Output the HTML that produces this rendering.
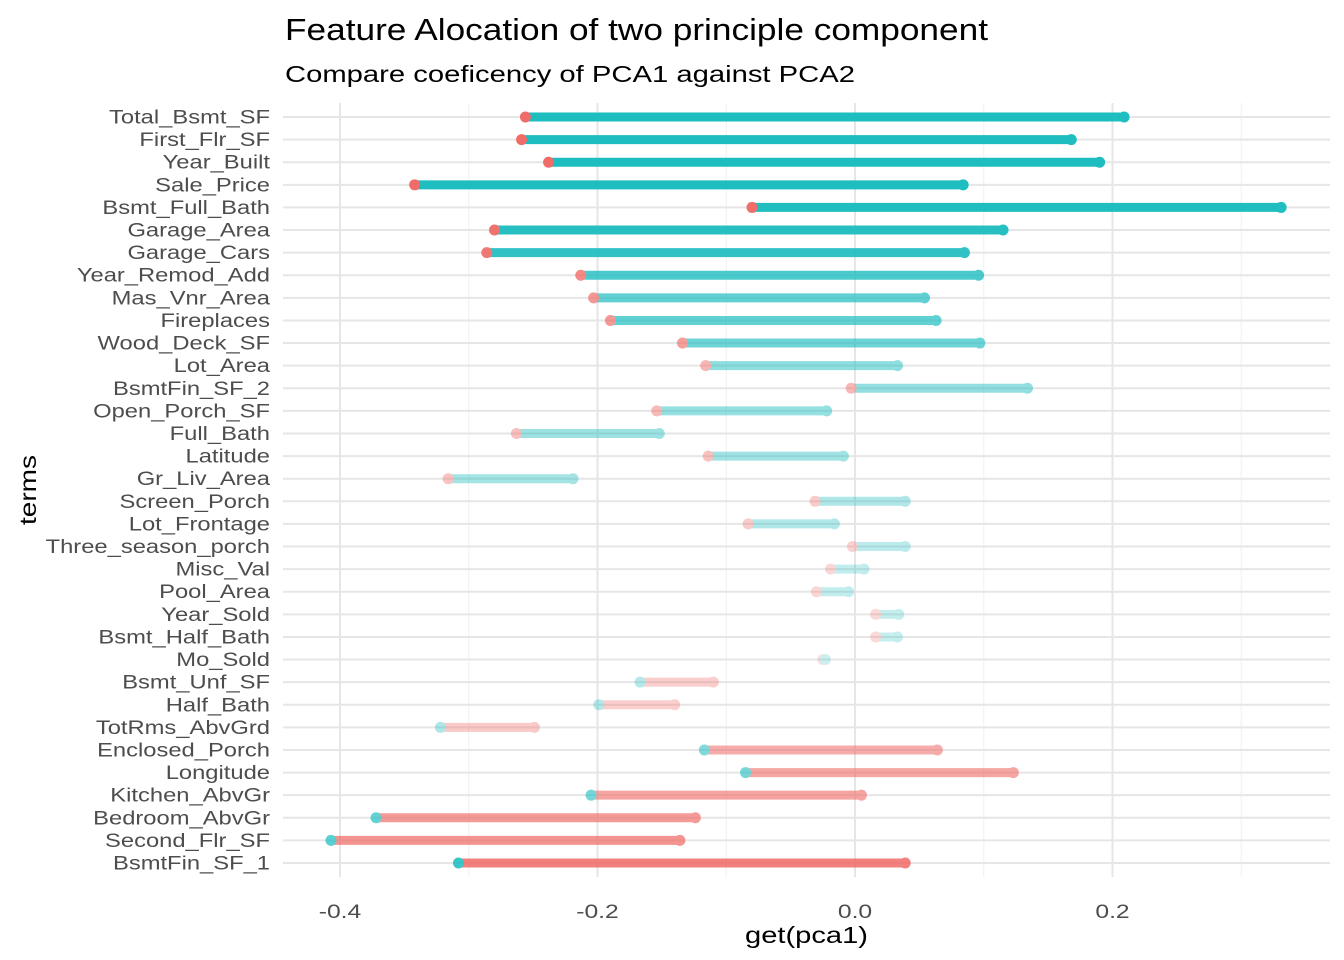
<!DOCTYPE html>
<html><head><meta charset="utf-8">
<style>
html,body{margin:0;padding:0;background:#fff;}
svg{display:block;font-family:"Liberation Sans",Arial,sans-serif;}
</style></head>
<body>
<svg id="chart" width="1344" height="960" viewBox="0 0 1344 960" xmlns="http://www.w3.org/2000/svg">
<text x="285" y="40" font-size="31" textLength="703" lengthAdjust="spacingAndGlyphs" fill="#000">Feature Alocation of two principle component</text>
<text x="285" y="82" font-size="23" textLength="570" lengthAdjust="spacingAndGlyphs" fill="#000">Compare coeficency of PCA1 against PCA2</text>
<text x="745" y="943" font-size="23" textLength="123" lengthAdjust="spacingAndGlyphs" fill="#000">get(pca1)</text>
<text transform="translate(36,525) rotate(-90)" font-size="23" textLength="70" lengthAdjust="spacingAndGlyphs" fill="#000">terms</text>
<g id="grid"></g><g id="marks"></g><g id="labels"></g>
</svg>
<script>
const terms=["Total_Bsmt_SF","First_Flr_SF","Year_Built","Sale_Price","Bsmt_Full_Bath","Garage_Area","Garage_Cars","Year_Remod_Add","Mas_Vnr_Area","Fireplaces","Wood_Deck_SF","Lot_Area","BsmtFin_SF_2","Open_Porch_SF","Full_Bath","Latitude","Gr_Liv_Area","Screen_Porch","Lot_Frontage","Three_season_porch","Misc_Val","Pool_Area","Year_Sold","Bsmt_Half_Bath","Mo_Sold","Bsmt_Unf_SF","Half_Bath","TotRms_AbvGrd","Enclosed_Porch","Longitude","Kitchen_AbvGr","Bedroom_AbvGr","Second_Flr_SF","BsmtFin_SF_1"];
const redVals=[-0.256,-0.259,-0.238,-0.342,-0.080,-0.280,-0.286,-0.213,-0.203,-0.190,-0.134,-0.116,-0.003,-0.154,-0.263,-0.114,-0.316,-0.031,-0.083,-0.002,-0.019,-0.030,0.016,0.016,-0.025,-0.110,-0.140,-0.249,0.064,0.123,0.005,-0.124,-0.136,0.039];
const tealVals=[0.209,0.168,0.190,0.084,0.331,0.115,0.085,0.096,0.054,0.063,0.097,0.033,0.134,-0.022,-0.152,-0.009,-0.219,0.039,-0.016,0.039,0.007,-0.005,0.034,0.033,-0.023,-0.167,-0.199,-0.322,-0.117,-0.085,-0.205,-0.372,-0.407,-0.308];
const xTicks=[-0.4,-0.2,0.0,0.2];
const xTickLabels=["-0.4","-0.2","0.0","0.2"];
const xMinor=[-0.3,-0.1,0.1,0.3];

const NS="http://www.w3.org/2000/svg";
const x=v=>855+v*1287.5;
const y=i=>117+i*(863-117)/(terms.length-1);
const RED="#F06C68", TEAL="#1DBDC0";
function mk(tag,attrs,parent){const e=document.createElementNS(NS,tag);for(const k in attrs)e.setAttribute(k,attrs[k]);parent.appendChild(e);return e;}
const grid=document.getElementById('grid'),marks=document.getElementById('marks'),labels=document.getElementById('labels');
const L=283,R=1330,T=103,B=877;
xMinor.forEach(v=>{const l=mk('line',{x1:x(v),x2:x(v),y1:T,y2:B,stroke:'#f0f0f0','stroke-width':1},grid);

});
xTicks.forEach((v,k)=>{const l=mk('line',{x1:x(v),x2:x(v),y1:T,y2:B,stroke:'#e6e6e6','stroke-width':2},grid);


const t=mk('text',{x:0,y:0,'font-size':19,'text-anchor':'middle',fill:'#4d4d4d',transform:`translate(${x(v)},918) scale(1.3,1)`},labels);t.textContent=xTickLabels[k];

});
terms.forEach((n,i)=>{const l=mk('line',{x1:L,x2:R,y1:y(i),y2:y(i),stroke:'#e6e6e6','stroke-width':2},grid);


const t=mk('text',{x:0,y:0,'font-size':19,'text-anchor':'end',fill:'#4d4d4d',transform:`translate(270,${y(i)+6.5}) scale(1.25,1)`},labels);t.textContent=n;

});
terms.forEach((n,i)=>{
 const r=redVals[i],tl=tealVals[i],d=Math.abs(tl-r);
 const a=0.22+0.78*Math.min(1,d/0.42);
 const col=tl>r?TEAL:RED;
 const g=mk('g',{opacity:a},marks);
 
 
 const ln=mk('line',{x1:x(r),x2:x(tl),y1:y(i),y2:y(i),stroke:col,'stroke-width':9},g);
 
 
 const order=tl>r?[[r,RED,'red-point'],[tl,TEAL,'teal-point']]:[[tl,TEAL,'teal-point'],[r,RED,'red-point']];
 order.forEach(o=>{const c=mk('circle',{cx:x(o[0]),cy:y(i),r:5.5,fill:o[1]},g);
 
 });
});
</script>
</body></html>
